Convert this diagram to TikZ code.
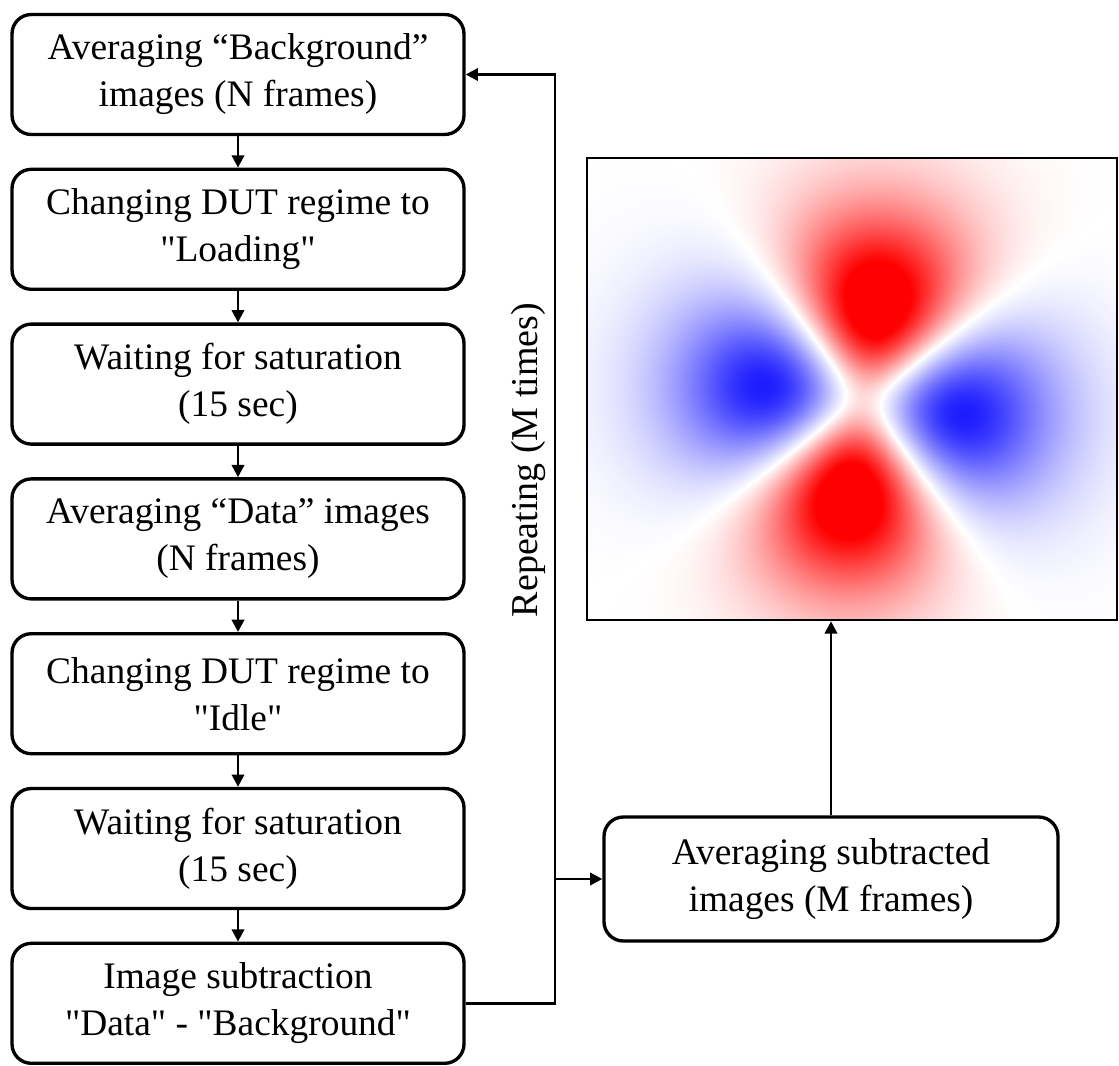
\documentclass[tikz,border=0pt]{standalone}
\usepackage{fontspec}
\setmainfont{Liberation Serif}[Ligatures=TeXOff]
\usetikzlibrary{arrows.meta,positioning,calc}

% red/blue difference map: (y^2 - x^2 + c) exp(-r^1.5), tilted a little
\pgfdeclarefunctionalshading{diffmap}{\pgfpointorigin}{\pgfpoint{100bp}{100bp}}{}{
  25 sub 9.24 mul 220 sub
  exch 25 sub 10.6 mul 276 sub
  2 copy 0.01199 mul exch 0.00168 mul sub
  3 1 roll 0.00168 mul exch 0.01199 mul add
  dup mul exch dup mul
  2 copy add 3 1 roll sub 0.045 add
  exch 0.75 exp neg 2.71828 exch exp mul 3.10 mul
  dup 0 ge
  {dup 1 gt {pop 1} if 1 exch sub 1 exch dup}
  {neg 0.85 mul dup 1 gt {pop 1} if 0.9 mul 1 exch sub dup 1}
  ifelse
}

\tikzset{
  stepbox/.style={draw, line width=1.9pt, rounded corners=11pt,
    minimum width=9.04cm, minimum height=2.4cm, align=center, inner sep=0pt,
    font=\fontsize{21.3}{26.75}\selectfont},
  flow/.style={-{Triangle[length=7pt,width=7pt]}, line width=1.5pt}
}

\begin{document}
\begin{tikzpicture}[x=2cm,y=-2cm]
    \useasboundingbox (0,0) rectangle (11.19,10.65);

    % measurement steps
    \node[stepbox] (avgbg)    at (2.38,0.745) {Averaging “Background”\\images (N frames)};
    \node[stepbox] (loadreg)  at (2.38,2.293) {Changing DUT regime to\\"Loading"};
    \node[stepbox] (waitload) at (2.38,3.841) {Waiting for saturation\\(15 sec)};
    \node[stepbox] (avgdata)  at (2.38,5.389) {Averaging “Data” images\\(N frames)};
    \node[stepbox] (idlereg)  at (2.38,6.937) {Changing DUT regime to\\"Idle"};
    \node[stepbox] (waitidle) at (2.38,8.485) {Waiting for saturation\\(15 sec)};
    \node[stepbox] (subtr)    at (2.38,10.033) {Image subtraction\\"Data" - "Background"};

    \foreach \a/\b in {avgbg/loadreg, loadreg/waitload, waitload/avgdata,
                       avgdata/idlereg, idlereg/waitidle, waitidle/subtr}
        \draw[flow] (\a) -- (\b);

    % final averaging and result
    \node[stepbox, minimum width=9.08cm, minimum height=2.48cm] (avgsub) at (8.31,8.79)
        {Averaging subtracted\\images (M frames)};
    \node[draw, line width=1.4pt, inner sep=0pt, minimum width=10.6cm,
          minimum height=9.24cm, shade, shading=diffmap] (map) at (8.52,3.89) {};

    % loop back
    \coordinate (loop) at (5.55,0);
    \draw[flow] (subtr.east) -| (loop |- avgbg.east) -- (avgbg.east);
    \draw[flow] (loop |- avgsub.west) -- (avgsub.west);
    \draw[flow] (avgsub.north) -- (avgsub.north |- map.south);

    \node[rotate=90, font=\fontsize{21.6}{26.75}\selectfont] (rep) at (5.28,4.60)
        {Repeating (M times)};
\end{tikzpicture}
\end{document}
